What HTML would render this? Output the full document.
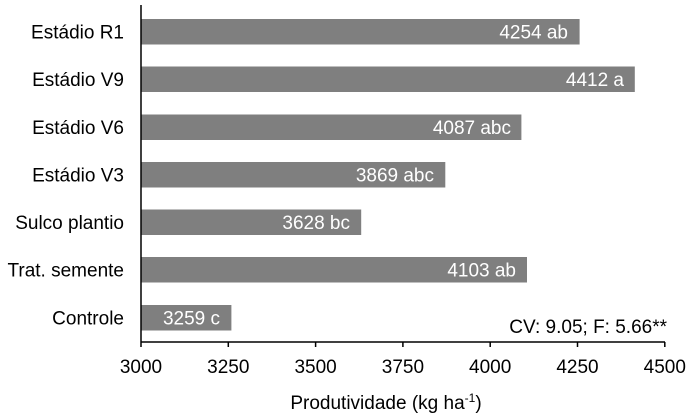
<!DOCTYPE html>
<html><head><style>
body{margin:0;background:#fff;}
svg{display:block;font-family:"Liberation Sans",Arial,sans-serif;}
</style></head><body>
<svg width="696" height="418" viewBox="0 0 696 418">
<g fill="#7f7f7f">
<rect x="141" y="19" width="438.6" height="25.5"/>
<rect x="141" y="66.5" width="493.8" height="25.5"/>
<rect x="141" y="114.5" width="380.4" height="25.5"/>
<rect x="141" y="162" width="304.3" height="25.5"/>
<rect x="141" y="209.5" width="220.2" height="25.5"/>
<rect x="141" y="257" width="386" height="25.5"/>
<rect x="141" y="305" width="90.4" height="25.5"/>
</g>
<g fill="#fff" font-size="19" text-anchor="end">
<text x="568" y="38.5">4254 ab</text>
<text x="624" y="86">4412 a</text>
<text x="511" y="134">4087 abc</text>
<text x="434" y="181.5">3869 abc</text>
<text x="350" y="229">3628 bc</text>
<text x="516" y="276.5">4103 ab</text>
<text x="220" y="324.5">3259 c</text>
</g>
<g fill="#000" font-size="19" text-anchor="end">
<text x="124" y="38.5">Estádio R1</text>
<text x="124" y="86">Estádio V9</text>
<text x="124" y="134">Estádio V6</text>
<text x="124" y="181.5">Estádio V3</text>
<text x="124" y="229">Sulco plantio</text>
<text x="124" y="276.5">Trat. semente</text>
<text x="124" y="324.5">Controle</text>
</g>
<g stroke="#000" stroke-width="1.5">
<line x1="141" y1="5" x2="141" y2="347"/>
<line x1="141" y1="342" x2="665" y2="342"/>
<line x1="228.3" y1="342" x2="228.3" y2="347"/>
<line x1="315.6" y1="342" x2="315.6" y2="347"/>
<line x1="402.9" y1="342" x2="402.9" y2="347"/>
<line x1="490.2" y1="342" x2="490.2" y2="347"/>
<line x1="577.5" y1="342" x2="577.5" y2="347"/>
<line x1="664.8" y1="342" x2="664.8" y2="347"/>
</g>
<g fill="#000" font-size="19" text-anchor="middle">
<text x="141" y="373">3000</text>
<text x="228.3" y="373">3250</text>
<text x="315.6" y="373">3500</text>
<text x="402.9" y="373">3750</text>
<text x="490.2" y="373">4000</text>
<text x="577.5" y="373">4250</text>
<text x="664.8" y="373">4500</text>
<text x="386" y="409">Produtividade (kg ha<tspan font-size="12" dy="-7">-1</tspan><tspan dy="7">)</tspan></text>
</g>
<text x="667" y="333" font-size="19" text-anchor="end">CV: 9.05; F: 5.66**</text>
</svg>
</body></html>
